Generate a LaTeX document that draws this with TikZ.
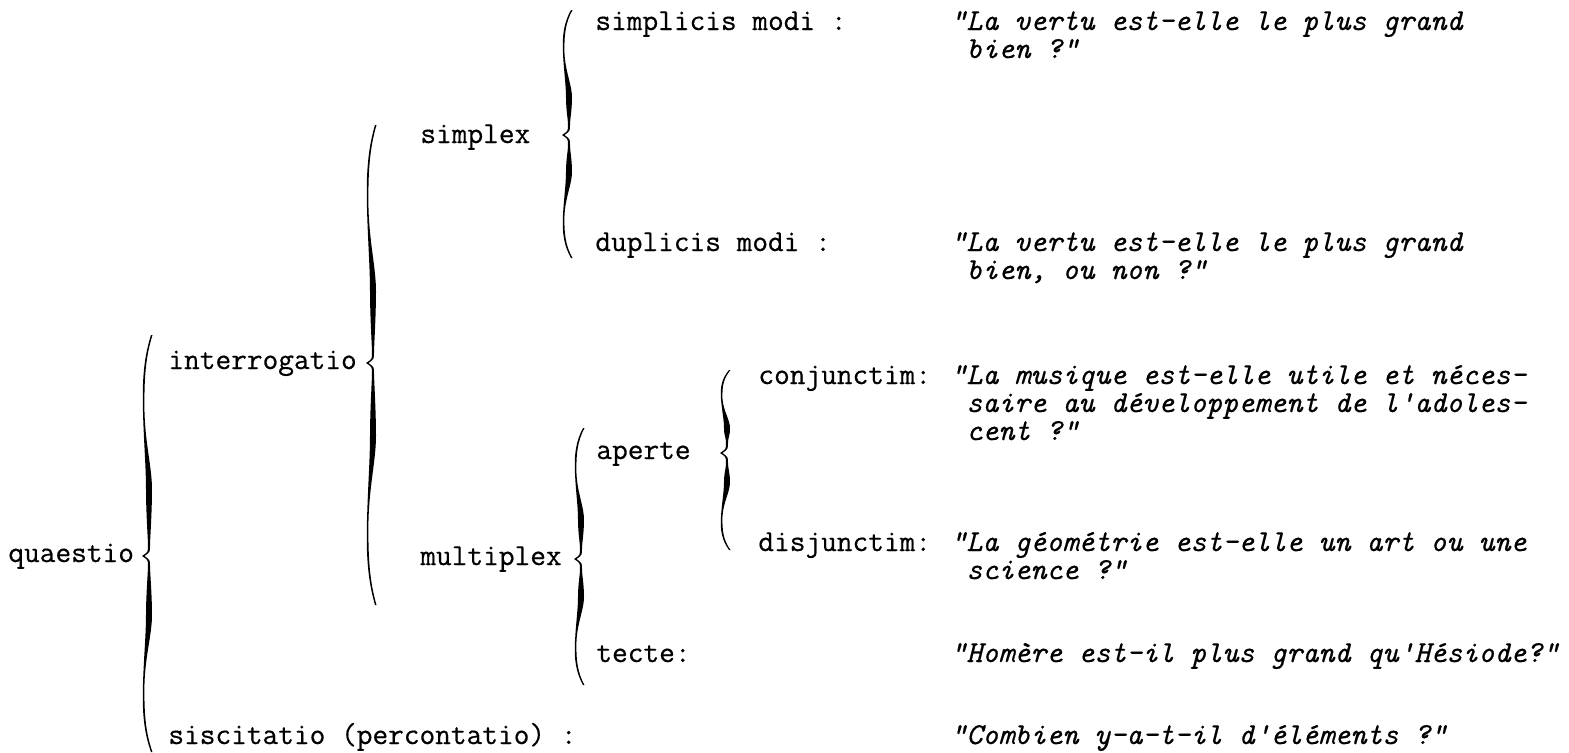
\documentclass[tikz,border=0pt]{standalone}
\usepackage{fontspec}
\usepackage{tikz}
\setmonofont{Latin Modern Mono}[FakeBold=0.5]

\newcommand{\qfont}{\fontsize{15.24}{14}\selectfont\ttfamily}
% curly brace: tip x, top y, tip y, bottom y
\newcommand{\qbrace}[4]{%
  \pgfmathsetmacro\qbT{#1}%
  \pgfmathsetmacro\qbh{#3-#2}%
  \pgfmathsetmacro\qbk{#4-#3}%
  \fill (\qbT+9,#2)
    .. controls (\qbT+2,#2+0.1*\qbh) and (\qbT,#2+0.2*\qbh) .. (\qbT+1,#2+0.35*\qbh)
    .. controls (\qbT+2,#2+0.5*\qbh) and (\qbT+4,#3-0.4*\qbh) .. (\qbT+4,#3-0.3*\qbh)
    .. controls (\qbT+4,#3-0.2*\qbh) and (\qbT+6,#3-16) .. (\qbT+6,#3-10)
    .. controls (\qbT+6,#3-4) .. (\qbT,#3)
    .. controls (\qbT+6,#3+4) .. (\qbT+6,#3+10)
    .. controls (\qbT+6,#3+16) and (\qbT+4,#3+0.2*\qbk) .. (\qbT+4,#3+0.3*\qbk)
    .. controls (\qbT+4,#3+0.4*\qbk) and (\qbT+2,#4-0.5*\qbk) .. (\qbT+1,#4-0.35*\qbk)
    .. controls (\qbT,#4-0.2*\qbk) and (\qbT+2,#4-0.1*\qbk) .. (\qbT+9,#4)
    -- (\qbT+10.5,#4)
    .. controls (\qbT+3.5,#4-0.1*\qbk) and (\qbT+2,#4-0.2*\qbk) .. (\qbT+2.5,#4-0.35*\qbk)
    .. controls (\qbT+3.5,#4-0.5*\qbk) and (\qbT+10,#3+0.4*\qbk) .. (\qbT+10,#3+0.3*\qbk)
    .. controls (\qbT+10,#3+0.2*\qbk) and (\qbT+8,#3+16) .. (\qbT+8,#3+10)
    .. controls (\qbT+8,#3+4) .. (\qbT+2.5,#3)
    .. controls (\qbT+8,#3-4) .. (\qbT+8,#3-10)
    .. controls (\qbT+8,#3-16) and (\qbT+10,#3-0.2*\qbh) .. (\qbT+10,#3-0.3*\qbh)
    .. controls (\qbT+10,#3-0.4*\qbh) and (\qbT+3.5,#2+0.5*\qbh) .. (\qbT+2.5,#2+0.35*\qbh)
    .. controls (\qbT+2,#2+0.2*\qbh) and (\qbT+3.5,#2+0.1*\qbh) .. (\qbT+10.5,#2)
    -- cycle;
}

\begin{document}
\begin{tikzpicture}[x=0.5pt, y=-0.5pt,
    lab/.style={anchor=base west, inner sep=0pt, font=\qfont},
    quote/.style={anchor=base west, inner sep=0pt, align=left, font=\qfont\itshape}]
    \useasboundingbox (0,0) rectangle (1569,752);

    % Tree labels
    \node[lab] (quaestio) at (8,562) {quaestio};
    \node[lab] (interrogatio) at (168,369) {interrogatio};
    \node[lab] (siscitatio) at (168,744) {siscitatio (percontatio) :};
    \node[lab] (simplex) at (420,143) {simplex};
    \node[lab] (multiplex) at (420,565) {multiplex};
    \node[lab] (simplicis) at (595,30) {simplicis modi :};
    \node[lab] (duplicis) at (595,251) {duplicis modi :};
    \node[lab] (aperte) at (596,459) {aperte};
    \node[lab] (tecte) at (596,662) {tecte:};
    \node[lab] (conjunctim) at (758,384) {conjunctim:};
    \node[lab] (disjunctim) at (758,551) {disjunctim:};

    % Examples (placed at the baseline of their last line)
    \node[quote] (qsimplicis) at (950,58) {"La vertu est-elle le plus grand\\\phantom{"}bien ?"};
    \node[quote] (qduplicis) at (950,279) {"La vertu est-elle le plus grand\\\phantom{"}bien, ou non ?"};
    \node[quote] (qconjunctim) at (950,440) {"La musique est-elle utile et néces-\\\phantom{"}saire au développement de l'adoles-\\\phantom{"}cent ?"};
    \node[quote] (qdisjunctim) at (950,579) {"La géométrie est-elle un art ou une\\\phantom{"}science ?"};
    \node[quote] (qtecte) at (950,662) {"Homère est-il plus grand qu'Hésiode?"};
    \node[quote] (qsiscitatio) at (950,744) {"Combien y-a-t-il d'éléments ?"};

    % Braces
    \qbrace{142}{335}{556}{752}
    \qbrace{366}{125}{363}{605}
    \qbrace{562}{10}{135}{258}
    \qbrace{574}{428}{559}{685}
    \qbrace{720}{370}{453}{550}
\end{tikzpicture}
\end{document}
